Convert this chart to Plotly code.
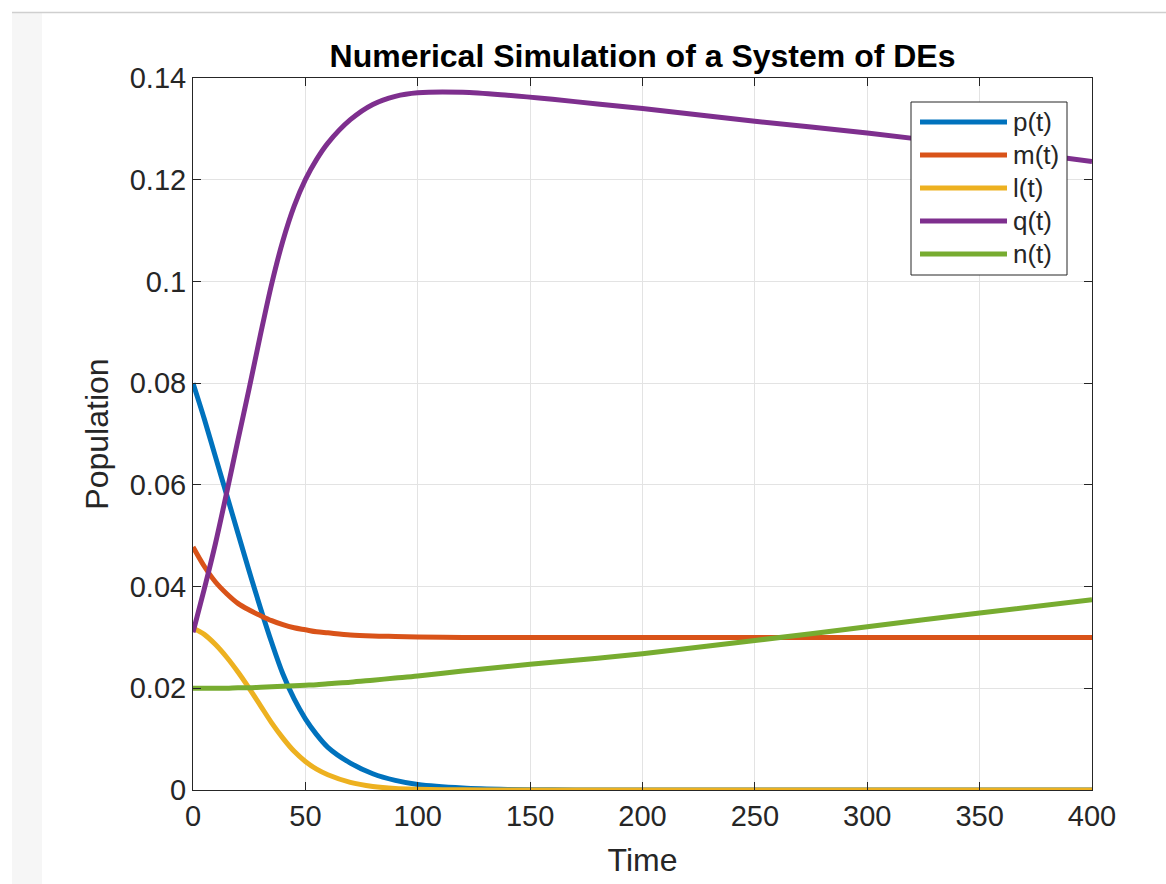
import plotly.graph_objects as go

# Simulated time points and state values of the system
time = [0, 5, 10, 15, 20, 25, 30, 35, 40, 45, 50, 55, 60, 70, 80, 90, 100,
        120, 140, 160, 180, 200, 250, 300, 350, 400]

p_vals = [0.0800, 0.0730, 0.0655, 0.0580, 0.0505, 0.0430, 0.0358, 0.0290, 0.0228,
          0.0179, 0.0140, 0.0109, 0.0084, 0.0053, 0.0032, 0.0019, 0.0011,
          0.0004, 0.00012, 0.00003, 0.0, 0.0, 0.0, 0.0, 0.0, 0.0]

m_vals = [0.0478, 0.0440, 0.0409, 0.0386, 0.0367, 0.0354, 0.0343, 0.0333, 0.0325,
          0.0319, 0.0315, 0.0311, 0.0309, 0.0305, 0.0303, 0.0302, 0.0301,
          0.0300, 0.0300, 0.0300, 0.0300, 0.0300, 0.0300, 0.0300, 0.0300, 0.0300]

l_vals = [0.0318, 0.0306, 0.0286, 0.0261, 0.0232, 0.0200, 0.0166, 0.0132, 0.0102,
          0.0076, 0.0056, 0.0041, 0.0030, 0.0015, 0.0007, 0.0003, 0.00015,
          0.00003, 0.0, 0.0, 0.0, 0.0, 0.0, 0.0, 0.0, 0.0]

q_vals = [0.0310, 0.0395, 0.0485, 0.0585, 0.0688, 0.0790, 0.0895, 0.0995, 0.1080,
          0.1148, 0.1200, 0.1240, 0.1272, 0.1318, 0.1348, 0.1364, 0.1371,
          0.1372, 0.1366, 0.1358, 0.1349, 0.1340, 0.1315, 0.1292, 0.1265, 0.1236]

n_vals = [0.0200, 0.0200, 0.0200, 0.0200, 0.0201, 0.0201, 0.0202, 0.0203, 0.0204,
          0.0205, 0.0206, 0.0207, 0.0209, 0.0212, 0.0216, 0.0220, 0.0224,
          0.0234, 0.0243, 0.0251, 0.0259, 0.0268, 0.0294, 0.0321, 0.0348, 0.0374]

series_names = ["p(t)", "m(t)", "l(t)", "q(t)", "n(t)"]
series_colors = ["#0072BD", "#D95319", "#EDB120", "#7E2F8E", "#77AC30"]

x_ticks = [0, 50, 100, 150, 200, 250, 300, 350, 400]
x_ticklabels = ["0", "50", "100", "150", "200", "250", "300", "350", "400"]
y_ticks = [0, 0.02, 0.04, 0.06, 0.08, 0.10, 0.12, 0.14]
y_ticklabels = ["0", "0.02", "0.04", "0.06", "0.08", "0.1", "0.12", "0.14"]

FONT = "Liberation Sans, Arial, Helvetica, sans-serif"
INK = "#262626"
LINE_W = 5

# Figure geometry in pixels (plot area spans left..right, top..bottom)
W, H = 1166, 884
LEFT, RIGHT, TOP, BOTTOM = 193, 1092, 78, 790


def px_x(px):
    """Horizontal pixel position -> paper coordinate."""
    return (px - LEFT) / (RIGHT - LEFT)


def px_y(py):
    """Vertical pixel position -> paper coordinate."""
    return (BOTTOM - py) / (BOTTOM - TOP)


fig = go.Figure()
for name, vals, color in zip(series_names,
                             [p_vals, m_vals, l_vals, q_vals, n_vals],
                             series_colors):
    fig.add_trace(go.Scatter(
        x=time, y=vals, name=name, mode="lines", showlegend=False,
        line=dict(color=color, width=LINE_W, shape="spline", smoothing=0.9),
    ))

axis_common = dict(
    showline=True, linecolor=INK, linewidth=1, mirror="ticks",
    ticks="inside", ticklen=8, tickcolor=INK, tickwidth=1,
    showgrid=True, gridcolor="#e3e3e3", gridwidth=1,
    zeroline=False,
    tickfont=dict(family=FONT, size=29, color=INK),
)

fig.update_xaxes(
    range=[0, 400], tickmode="array", tickvals=x_ticks, ticktext=x_ticklabels,
    title=dict(text="Time", font=dict(family=FONT, size=32, color=INK), standoff=17),
    **axis_common,
)
fig.update_yaxes(
    range=[0, 0.14], tickmode="array", tickvals=y_ticks, ticktext=y_ticklabels,
    title=dict(text="Population", font=dict(family=FONT, size=32, color=INK), standoff=11),
    **axis_common,
)

shapes = []
annotations = []

# Page decoration: left gutter strip and top divider line
shapes.append(dict(type="rect", xref="paper", yref="paper",
                   x0=px_x(12), x1=px_x(42), y0=px_y(H + 2), y1=px_y(13),
                   fillcolor="#f6f6f6", line=dict(width=0), layer="below"))
shapes.append(dict(type="line", xref="paper", yref="paper",
                   x0=px_x(12), x1=px_x(W + 2), y0=px_y(12.5), y1=px_y(12.5),
                   line=dict(color="#cfcfcf", width=1.5)))

# Legend box with line samples and labels
LEG_X0, LEG_X1, LEG_Y0, LEG_Y1 = 911, 1067, 102, 275
ROW0, ROW_STEP = 122, 33
shapes.append(dict(type="rect", xref="paper", yref="paper",
                   x0=px_x(LEG_X0), x1=px_x(LEG_X1), y0=px_y(LEG_Y1), y1=px_y(LEG_Y0),
                   fillcolor="white", line=dict(color=INK, width=1), layer="above"))
for i, (name, color) in enumerate(zip(series_names, series_colors)):
    row_y = ROW0 + i * ROW_STEP
    shapes.append(dict(type="line", xref="paper", yref="paper",
                       x0=px_x(920), x1=px_x(1007), y0=px_y(row_y), y1=px_y(row_y),
                       line=dict(color=color, width=LINE_W), layer="above"))
    annotations.append(dict(xref="paper", yref="paper", x=px_x(1011), y=px_y(row_y),
                            xanchor="left", yanchor="middle", showarrow=False,
                            text=name, font=dict(family=FONT, size=26, color=INK)))

fig.update_layout(
    width=W, height=H,
    margin=dict(l=LEFT, r=W - RIGHT, t=TOP, b=H - BOTTOM),
    paper_bgcolor="white", plot_bgcolor="white",
    font=dict(family=FONT, color=INK),
    title=dict(
        text="<b>Numerical Simulation of a System of DEs</b>",
        font=dict(family=FONT, size=32, color="black"),
        x=0.5, xref="paper", xanchor="center",
        y=1 - 56 / H, yref="container", yanchor="middle",
    ),
    shapes=shapes,
    annotations=annotations,
    showlegend=False,
)

fig.write_html("out.html")
